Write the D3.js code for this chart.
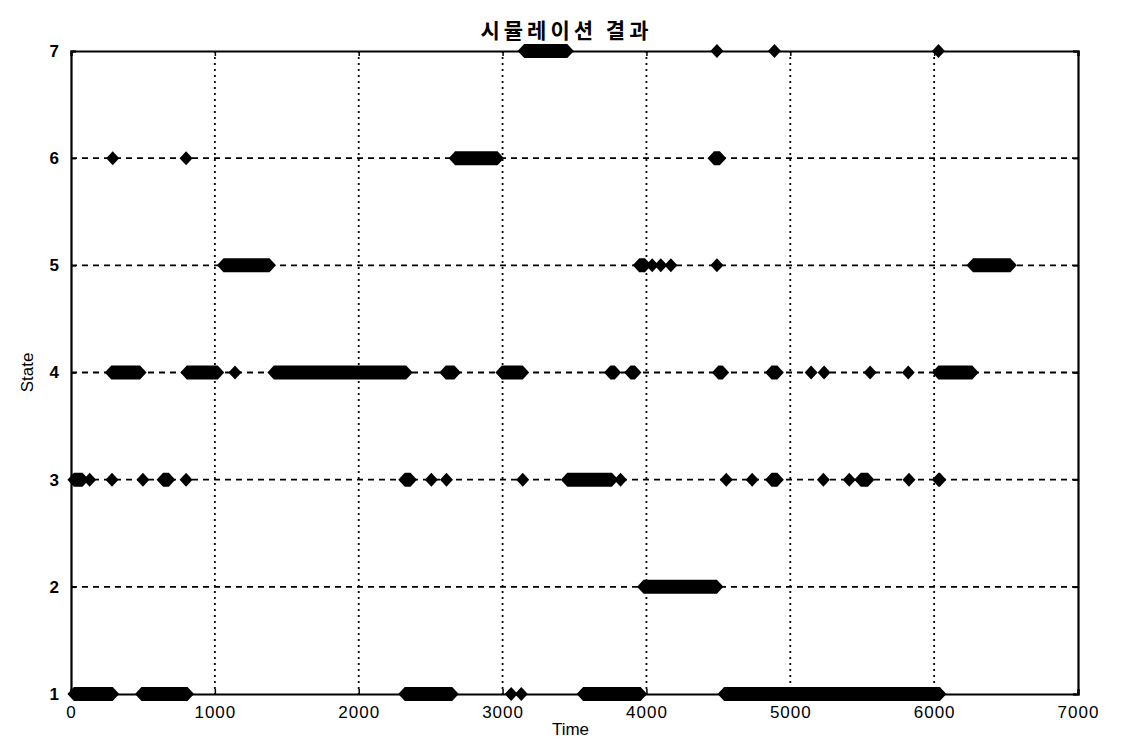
<!DOCTYPE html>
<html>
<head>
<meta charset="utf-8">
<script src="https://cdn.jsdelivr.net/npm/d3@7"></script>
<style>
  body { margin: 0; background: #fff; }
  svg { display: block; font-family: "Liberation Sans", Arial, sans-serif; }
  .tick text { font-size: 17px; fill: #000; }
</style>
</head>
<body>
<svg id="chart" width="1126" height="740"></svg>
<script>
// runs of the same state: [start time, end time]; single samples have start == end
const state1 = [[20, 290], [490, 810], [2320, 2650], [3060, 3060], [3130, 3130], [3560, 3960], [4540, 6040]];
const state2 = [[3980, 4490]];
const state3 = [[20, 80], [130, 130], [285, 285], [500, 500], [640, 680], [800, 800], [2320, 2360], [2505, 2505],
  [2610, 2610], [3140, 3140], [3450, 3760], [3820, 3820], [4555, 4555], [4735, 4735], [4870, 4910],
  [5230, 5230], [5410, 5410], [5490, 5540], [5825, 5825], [6030, 6040]];
const state4 = [[280, 480], [805, 1020], [1140, 1140], [1410, 2330], [2605, 2665], [2995, 3140], [3750, 3780],
  [3890, 3920], [4500, 4530], [4870, 4910], [5145, 5145], [5235, 5235], [5555, 5555], [5820, 5820], [6030, 6265]];
const state5 = [[1060, 1380], [3950, 3990], [4040, 4040], [4100, 4100], [4170, 4170], [4490, 4490], [6270, 6530]];
const state6 = [[290, 290], [800, 800], [2670, 2965], [4470, 4510]];
const state7 = [[3150, 3450], [4490, 4490], [4890, 4890], [6030, 6030]];

const xTicks = [0, 1000, 2000, 3000, 4000, 5000, 6000, 7000];
const yTicks = [1, 2, 3, 4, 5, 6, 7];

const runs = [
  { state: 1, list: state1 }, { state: 2, list: state2 }, { state: 3, list: state3 },
  { state: 4, list: state4 }, { state: 5, list: state5 }, { state: 6, list: state6 },
  { state: 7, list: state7 },
];

const svg = d3.select('#chart');
const margin = { top: 51, right: 48, bottom: 46, left: 71 };
const width = 1126 - margin.left - margin.right;
const height = 740 - margin.top - margin.bottom;

const x = d3.scaleLinear().domain([0, 7000]).range([0, width]);
const y = d3.scaleLinear().domain([1, 7]).range([height, 0]);

const g = svg.append('g').attr('transform', `translate(${margin.left},${margin.top})`);

//
// GRID
//
g.append('g')
  .selectAll('line')
  .data(xTicks.slice(1, -1))
  .join('line')
  .attr('x1', (d) => x(d)).attr('x2', (d) => x(d))
  .attr('y1', 0).attr('y2', height)
  .attr('stroke', '#000').attr('stroke-width', 1.8)
  .attr('stroke-dasharray', '2,4');

g.append('g')
  .selectAll('line')
  .data(yTicks.slice(1, -1))
  .join('line')
  .attr('x1', 0).attr('x2', width)
  .attr('y1', (d) => y(d)).attr('y2', (d) => y(d))
  .attr('stroke', '#000').attr('stroke-width', 1.8)
  .attr('stroke-dasharray', '6,5');

//
// AXES
//
const xAxis = g.append('g')
  .attr('transform', `translate(0,${height})`)
  .call(d3.axisBottom(x).tickValues(xTicks).tickSize(-5).tickPadding(12).tickFormat(d3.format('d')));
const yAxis = g.append('g')
  .call(d3.axisLeft(y).tickValues(yTicks).tickSize(-5).tickPadding(12).tickFormat(d3.format('d')));
g.append('g')
  .call(d3.axisTop(x).tickValues(xTicks).tickSize(-5).tickFormat(''));
g.append('g')
  .attr('transform', `translate(${width},0)`)
  .call(d3.axisRight(y).tickValues(yTicks).tickSize(-5).tickFormat(''));

g.selectAll('.domain').attr('stroke', '#000').attr('stroke-width', 2.2);
g.selectAll('.tick line').attr('stroke', '#000').attr('stroke-width', 1.5);
xAxis.selectAll('text').attr('letter-spacing', '1px');
yAxis.selectAll('text').attr('font-weight', 'bold');

//
// STATE MARKERS (diamonds, merged where samples overlap)
//
const hw = 6.5;
const hh = 7;
const shape = (s, e, st) => {
  const x0 = x(s), x1 = x(e), yc = y(st);
  return `M${x0 - hw},${yc}L${x0},${yc - hh}L${x1},${yc - hh}L${x1 + hw},${yc}L${x1},${yc + hh}L${x0},${yc + hh}Z`;
};

g.append('g')
  .selectAll('g')
  .data(runs)
  .join('g')
  .selectAll('path')
  .data((d) => d.list.map((r) => ({ s: r[0], e: r[1], st: d.state })))
  .join('path')
  .attr('d', (d) => shape(d.s, d.e, d.st))
  .attr('fill', '#000');

//
// LABELS
//
svg.append('text')
  .attr('x', margin.left + width / 2 - 8)
  .attr('y', 38)
  .attr('text-anchor', 'middle')
  .attr('font-family', '"Noto Sans CJK KR", sans-serif')
  .attr('font-size', 21)
  .attr('font-weight', 'bold')
  .attr('letter-spacing', '4px')
  .text('시뮬레이션 결과');

svg.append('text')
  .attr('x', margin.left + width / 2 - 4)
  .attr('y', 735)
  .attr('text-anchor', 'middle')
  .attr('font-size', 17)
  .text('Time');

svg.append('text')
  .attr('transform', `translate(33,${margin.top + y(4)}) rotate(-90)`)
  .attr('text-anchor', 'middle')
  .attr('font-size', 17)
  .text('State');
</script>
</body>
</html>
